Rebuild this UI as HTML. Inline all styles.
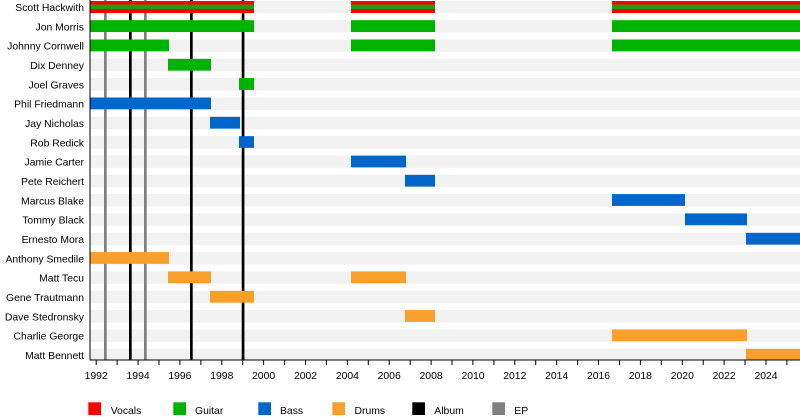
<!DOCTYPE html>
<html><head><meta charset="utf-8"><style>
html,body{margin:0;padding:0;background:#fff;}
svg{display:block;}
text{font-family:"Liberation Sans",Arial,sans-serif;font-size:10.4px;fill:#000;}
</style></head><body>
<svg width="800" height="420" viewBox="0 0 800 420" xmlns="http://www.w3.org/2000/svg">
<!-- background bands -->
<g fill="#f2f2f2">
<rect x="90" y="0.8" width="710" height="12.4"/>
<rect x="90" y="20.1" width="710" height="12.4"/>
<rect x="90" y="39.5" width="710" height="12.4"/>
<rect x="90" y="58.8" width="710" height="12.4"/>
<rect x="90" y="78.1" width="710" height="12.4"/>
<rect x="90" y="97.5" width="710" height="12.4"/>
<rect x="90" y="116.8" width="710" height="12.4"/>
<rect x="90" y="136.1" width="710" height="12.4"/>
<rect x="90" y="155.4" width="710" height="12.4"/>
<rect x="90" y="174.8" width="710" height="12.4"/>
<rect x="90" y="194.1" width="710" height="12.4"/>
<rect x="90" y="213.4" width="710" height="12.4"/>
<rect x="90" y="232.8" width="710" height="12.4"/>
<rect x="90" y="252.1" width="710" height="12.4"/>
<rect x="90" y="271.4" width="710" height="12.4"/>
<rect x="90" y="290.8" width="710" height="12.4"/>
<rect x="90" y="310.1" width="710" height="12.4"/>
<rect x="90" y="329.4" width="710" height="12.4"/>
<rect x="90" y="348.8" width="710" height="11.2"/>
</g>
<!-- event lines -->
<g>
<rect x="104" y="0" width="2.7" height="360" fill="#808080"/>
<rect x="144" y="0" width="2.7" height="360" fill="#808080"/>
<rect x="129" y="0" width="2.7" height="360" fill="#000"/>
<rect x="190" y="0" width="2.7" height="360" fill="#000"/>
<rect x="241.7" y="0" width="2.7" height="360" fill="#000"/>
</g>
<!-- bars -->
<g>
<!-- Scott -->
<g fill="#ff0000">
<rect x="90" y="1" width="164" height="12"/>
<rect x="351" y="1" width="84" height="12"/>
<rect x="612" y="1" width="188" height="12"/>
</g>
<g fill="#1f9c17">
<rect x="90" y="4.5" width="164" height="4.5"/>
<rect x="351" y="4.5" width="84" height="4.5"/>
<rect x="612" y="4.5" width="188" height="4.5"/>
</g>
<g fill="#00b300">
<rect x="90" y="20.2" width="164" height="11.8"/>
<rect x="351" y="20.2" width="84" height="11.8"/>
<rect x="612" y="20.2" width="188" height="11.8"/>
<rect x="90" y="39.5" width="79" height="11.8"/>
<rect x="351" y="39.5" width="84" height="11.8"/>
<rect x="612" y="39.5" width="188" height="11.8"/>
<rect x="168" y="58.8" width="43" height="11.8"/>
<rect x="239" y="78.1" width="15" height="11.8"/>
</g>
<g fill="#0066cc">
<rect x="90" y="97.5" width="121" height="11.8"/>
<rect x="210" y="116.8" width="30" height="11.8"/>
<rect x="239" y="136.1" width="15" height="11.8"/>
<rect x="351" y="155.6" width="55" height="11.8"/>
<rect x="405" y="174.8" width="30" height="11.8"/>
<rect x="612" y="194.1" width="73" height="11.8"/>
<rect x="685" y="213.4" width="62" height="11.8"/>
<rect x="746" y="232.8" width="54" height="11.8"/>
</g>
<g fill="#f9a02c">
<rect x="90" y="252.1" width="79" height="11.8"/>
<rect x="168" y="271.4" width="43" height="11.8"/>
<rect x="351" y="271.4" width="55" height="11.8"/>
<rect x="210" y="290.8" width="44" height="11.8"/>
<rect x="405" y="310.1" width="30" height="11.8"/>
<rect x="612" y="329.4" width="135" height="11.8"/>
<rect x="746" y="348.8" width="54" height="11.2"/>
</g>
</g>
<!-- axes -->
<rect x="89.5" y="0" width="1" height="360.5" fill="#000"/>
<rect x="89.5" y="359.5" width="710.5" height="1" fill="#000"/>
<g fill="#000">
<rect x="95.7" y="360" width="1" height="5"/><rect x="116.6" y="360" width="1" height="5"/>
<rect x="137.6" y="360" width="1" height="5"/><rect x="158.5" y="360" width="1" height="5"/>
<rect x="179.4" y="360" width="1" height="5"/><rect x="200.4" y="360" width="1" height="5"/>
<rect x="221.3" y="360" width="1" height="5"/><rect x="242.2" y="360" width="1" height="5"/>
<rect x="263.1" y="360" width="1" height="5"/><rect x="284.1" y="360" width="1" height="5"/>
<rect x="305.0" y="360" width="1" height="5"/><rect x="325.9" y="360" width="1" height="5"/>
<rect x="346.9" y="360" width="1" height="5"/><rect x="367.8" y="360" width="1" height="5"/>
<rect x="388.7" y="360" width="1" height="5"/><rect x="409.7" y="360" width="1" height="5"/>
<rect x="430.6" y="360" width="1" height="5"/><rect x="451.5" y="360" width="1" height="5"/>
<rect x="472.4" y="360" width="1" height="5"/><rect x="493.4" y="360" width="1" height="5"/>
<rect x="514.3" y="360" width="1" height="5"/><rect x="535.2" y="360" width="1" height="5"/>
<rect x="556.2" y="360" width="1" height="5"/><rect x="577.1" y="360" width="1" height="5"/>
<rect x="598.0" y="360" width="1" height="5"/><rect x="619.0" y="360" width="1" height="5"/>
<rect x="639.9" y="360" width="1" height="5"/><rect x="660.8" y="360" width="1" height="5"/>
<rect x="681.8" y="360" width="1" height="5"/><rect x="702.7" y="360" width="1" height="5"/>
<rect x="723.6" y="360" width="1" height="5"/><rect x="744.5" y="360" width="1" height="5"/>
<rect x="765.5" y="360" width="1" height="5"/><rect x="786.4" y="360" width="1" height="5"/>
</g>
<g text-anchor="middle">
<text x="96.2" y="379">1992</text><text x="138.1" y="379">1994</text>
<text x="179.9" y="379">1996</text><text x="221.8" y="379">1998</text>
<text x="263.6" y="379">2000</text><text x="305.5" y="379">2002</text>
<text x="347.4" y="379">2004</text><text x="389.2" y="379">2006</text>
<text x="431.1" y="379">2008</text><text x="473.0" y="379">2010</text>
<text x="514.8" y="379">2012</text><text x="556.7" y="379">2014</text>
<text x="598.5" y="379">2016</text><text x="640.4" y="379">2018</text>
<text x="682.3" y="379">2020</text><text x="724.1" y="379">2022</text>
<text x="766.0" y="379">2024</text>
</g>
<!-- labels -->
<g text-anchor="end">
<text x="84" y="11">Scott Hackwith</text>
<text x="84" y="30.3">Jon Morris</text>
<text x="84" y="49.7">Johnny Cornwell</text>
<text x="84" y="69">Dix Denney</text>
<text x="84" y="88.3">Joel Graves</text>
<text x="84" y="107.7">Phil Friedmann</text>
<text x="84" y="127">Jay Nicholas</text>
<text x="84" y="146.3">Rob Redick</text>
<text x="84" y="165.6">Jamie Carter</text>
<text x="84" y="185">Pete Reichert</text>
<text x="84" y="204.3">Marcus Blake</text>
<text x="84" y="223.6">Tommy Black</text>
<text x="84" y="243">Ernesto Mora</text>
<text x="84" y="262.3">Anthony Smedile</text>
<text x="84" y="281.6">Matt Tecu</text>
<text x="84" y="301">Gene Trautmann</text>
<text x="84" y="320.3">Dave Stedronsky</text>
<text x="84" y="339.6">Charlie George</text>
<text x="84" y="359">Matt Bennett</text>
</g>
<!-- legend -->
<rect x="88.3" y="402.3" width="12.7" height="12.7" fill="#ff0000"/>
<text x="110.7" y="414">Vocals</text>
<rect x="173.3" y="402.3" width="12.7" height="12.7" fill="#00b300"/>
<text x="195" y="414">Guitar</text>
<rect x="258.3" y="402.3" width="12.7" height="12.7" fill="#0066cc"/>
<text x="280" y="414">Bass</text>
<rect x="332.3" y="402.3" width="12.7" height="12.7" fill="#f9a02c"/>
<text x="354.5" y="414">Drums</text>
<rect x="412.3" y="402.3" width="12.7" height="12.7" fill="#000"/>
<text x="434.3" y="414">Album</text>
<rect x="492.3" y="402.3" width="12.7" height="12.7" fill="#808080"/>
<text x="514.3" y="414">EP</text>
</svg>
</body></html>
